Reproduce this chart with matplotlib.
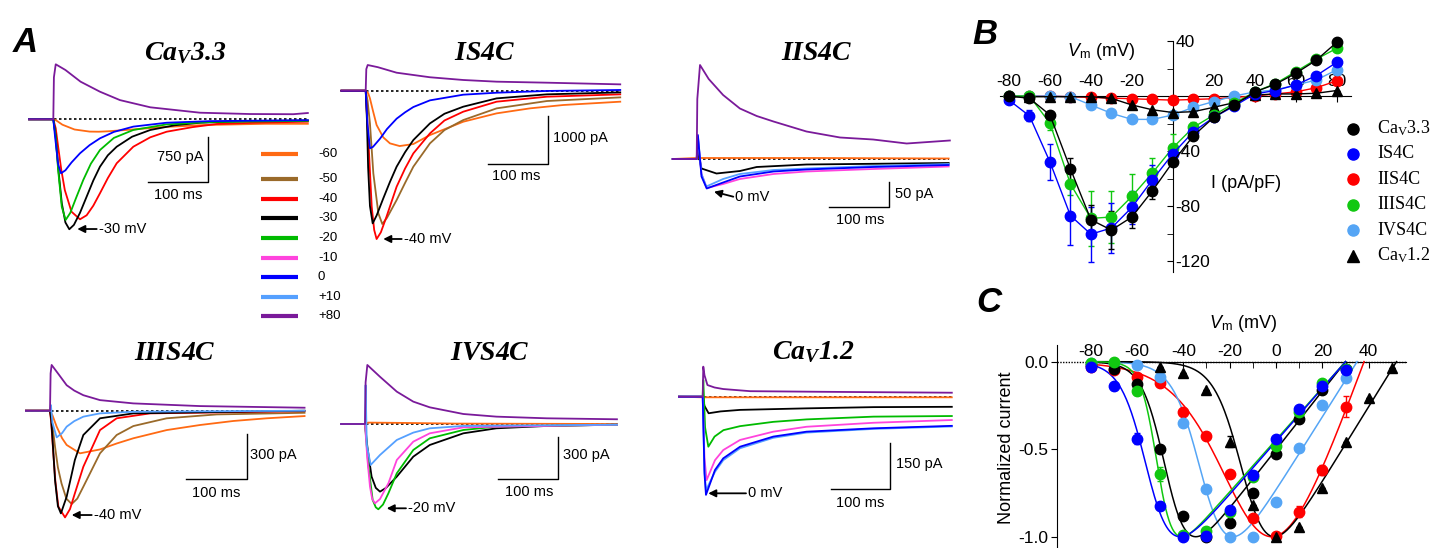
import matplotlib.pyplot as plt
import numpy as np

plt.rcParams['font.family'] = 'Liberation Sans'
plt.rcParams['axes.unicode_minus'] = False
plt.rcParams['mathtext.fontset'] = 'custom'
plt.rcParams['mathtext.rm'] = 'Liberation Serif'
plt.rcParams['mathtext.it'] = 'Liberation Serif:italic'
plt.rcParams['mathtext.bf'] = 'Liberation Serif:bold:italic'
plt.rcParams['mathtext.sf'] = 'Liberation Sans:italic'
plt.rcParams['mathtext.tt'] = 'Liberation Sans'

W, H = 1445, 548

# Step potentials (mV) and their trace colours
step_labels = ['-60', '-50', '-40', '-30', '-20', '-10', '0', '+10', '+80']
step_colors = ['#ff6a13', '#9a6a2a', '#ff0000', '#000000', '#00bb00',
               '#ff44dd', '#0000ff', '#55a0ff', '#7a1a9a']

# ---- Panel A: current traces, time (ms) from step onset, current (pA) ----
cav33_traces = {
    '-60': ([-40, 0, 5, 15, 35, 60, 75, 90, 130, 180, 250, 350, 420],
            [0, 0, -20, -90, -170, -205, -207, -200, -170, -130, -95, -75, -75]),
    '-40': ([-40, 0, 4, 8, 13, 19, 30, 44, 55, 66, 77, 90, 104.6, 132, 160, 187, 230, 270, 340, 420],
            [0, 0, -150, -457, -830, -1180, -1540, -1667, -1600, -1440, -1233, -980, -733, -457, -300, -207, -130, -78, -55, -40]),
    '-30': ([-40, 0, 4, 8, 14, 20, 26.4, 34, 44, 55, 66, 77, 90, 104.6, 130, 160, 200, 242, 320, 420],
            [0, 0, -280, -800, -1400, -1720, -1833, -1760, -1560, -1290, -1020, -790, -600, -457, -290, -178, -100, -57, -30, -20]),
    '-20': ([-40, 0, 4, 8, 14, 20.4, 28, 38, 49.5, 62, 77, 100, 132, 187, 260, 420],
            [0, 0, -300, -845, -1460, -1678, -1560, -1300, -1010, -740, -512, -310, -178, -85, -45, -25]),
    '0': ([-40, 0, 3, 8, 12.7, 20, 30, 44, 60, 77, 100, 132, 187, 260, 420],
          [0, 0, -300, -750, -900, -850, -720, -567, -430, -317, -210, -122, -57, -30, -15]),
    '+80': ([-40, 0, 1, 4, 20, 45, 77, 110, 160, 242, 324, 396, 420],
            [0, 0, 700, 917, 822, 627, 460, 320, 200, 110, 88, 85, 105]),
}

is4c_traces = {
    '-60': ([-40, 0, 4, 7, 12, 18, 29, 40, 56, 78.6, 106, 161, 216, 271, 326, 420],
            [0, 0, -50, -160, -420, -715, -972, -1097, -1153, -1111, -924, -646, -472, -368, -298, -229]),
    '-50': ([-40, 0, 3, 7, 12.6, 20.9, 27.4, 35, 51, 65, 78.6, 106, 130, 161, 216, 299, 420],
            [0, 0, -200, -681, -1722, -2555, -2777, -2650, -2278, -1920, -1583, -1097, -820, -611, -368, -215, -139]),
    '-40': ([-40, 0, 2, 4.4, 9.9, 14, 18, 25, 34.5, 51, 65, 78.6, 106, 130, 161, 216, 299, 420],
            [0, 0, -500, -1028, -2410, -2900, -3090, -2950, -2618, -2000, -1620, -1306, -889, -620, -437, -229, -125, -76]),
    '-30': ([-40, 0, 2, 4, 7, 11.5, 18, 29, 40, 51, 65, 78.6, 106, 130, 161, 216, 299, 420],
            [0, 0, -600, -1600, -2400, -2763, -2600, -2243, -1900, -1583, -1280, -1028, -681, -480, -333, -160, -76, -35]),
    '0': ([-40, 0, 3, 7, 12, 23.6, 35, 51, 65, 78.6, 106, 161, 216, 300, 420],
          [0, 0, -700, -1200, -1170, -1000, -800, -583, -450, -340, -201, -83, -42, -5, 15]),
    '+80': ([-40, 0, 1, 3.3, 20, 51, 106, 161, 216, 299, 420],
            [0, 0, 450, 535, 490, 375, 280, 223, 188, 167, 132]),
}

iis4c_traces = {
    '-60': ([-40, 0, 200, 420], [0, 2, 2, 1]),
    '-30': ([-40, 0, 2, 8, 33, 72, 100, 183, 420],
            [0, 0, 15, -19, -29, -24, -16, -11, -8]),
    '-10': ([-40, 0, 2, 8, 16.7, 44, 72, 128, 183, 294, 420],
            [0, 0, 40, -30, -58, -50, -40, -30, -25, -20, -15]),
    '+10': ([-40, 0, 2, 8, 16, 44, 72, 128, 183, 294, 420],
            [0, 0, 45, -30, -55, -40, -30, -22, -19, -14, -10]),
    '0': ([-40, 0, 2, 8, 16.7, 44, 72, 128, 183, 294, 420],
          [0, 0, 48, -35, -59, -47, -35, -25, -21, -16, -12]),
    '+80': ([-40, 0, 1, 5.5, 20, 44, 72, 100, 128, 183, 239, 294, 350, 422],
            [0, 0, 120, 188, 160, 128, 101, 86, 75, 55, 43, 39, 31, 37]),
}

iiis4c_traces = {
    '-60': ([-40, 0, 4, 11, 20, 27.5, 49.5, 82.5, 110, 137.5, 192.5, 247.5, 302.5, 357.5, 420],
            [0, 0, -30, -107, -185, -230, -286, -260, -220, -185, -130, -96, -69, -51, -36]),
    '-50': ([-40, 0, 3, 8.3, 13, 19, 27, 35.8, 45, 55, 82.5, 110, 137.5, 192.5, 275, 420],
            [0, 0, -60, -242, -380, -488, -590, -626, -590, -510, -286, -163, -103, -51, -25, -14]),
    '-40': ([-40, 0, 2, 5.5, 9, 13.8, 24.8, 33, 41, 55, 82.5, 110, 165, 420],
            [0, 0, -80, -286, -480, -644, -716, -660, -555, -376, -130, -51, -18, -3]),
    '-30': ([-40, 0, 2, 3.9, 8.3, 13, 18, 27.5, 41, 55, 82.5, 137.5, 420],
            [0, 0, -60, -174, -465, -640, -689, -577, -331, -163, -51, -18, 0]),
    '+10': ([-40, 0, 1.5, 4, 11, 20, 27.5, 40, 55, 82.5, 137.5, 420],
            [0, 0, 38, -80, -179, -150, -107, -70, -40, -18, -7, 0]),
    '+80': ([-40, 0, 1, 2.7, 15, 27.5, 40, 55, 82.5, 137.5, 247.5, 420],
            [0, 0, 250, 307, 240, 171, 135, 104, 71, 49, 31, 20]),
}

ivs4c_traces = {
    '-60': ([-40, 0, 5, 60, 150, 420], [0, 0, 10, 8, 3, 0]),
    '-30': ([-40, 0, 3.9, 11, 18, 25, 35, 53, 80.5, 108, 164, 219, 303, 420],
            [0, 0, -163, -379, -460, -487, -460, -379, -235, -151, -67, -31, -14, -5]),
    '-20': ([-40, 0, 5.5, 12.8, 18, 22.2, 30, 39, 53, 80.5, 108, 164, 219, 420],
            [0, 0, -295, -547, -600, -614, -580, -499, -355, -187, -103, -43, -19, -5]),
    '-10': ([-40, 0, 3.9, 8.3, 12, 16.7, 25, 39, 53, 80.5, 108, 164, 420],
            [0, 0, -250, -451, -540, -571, -540, -427, -259, -127, -67, -24, -5]),
    '+10': ([-40, 0, 1, 3, 9.4, 25, 53, 80.5, 108, 164, 420],
            [0, 0, 280, -150, -295, -223, -115, -62, -31, -14, -5]),
    '+80': ([-40, 0, 1, 3.9, 25, 53, 80.5, 108, 164, 219, 303, 420],
            [0, 0, 300, 425, 340, 233, 161, 120, 72, 53, 41, 34]),
}

cav12_traces = {
    '-60': ([-40, 0, 200, 420], [0, -2, -2, -2]),
    '-30': ([-40, 0, 3, 10, 30, 63, 175, 288, 420],
            [0, 0, -30, -54, -48, -43, -38, -34, -33]),
    '-20': ([-40, 0, 1, 4, 9.5, 20, 35, 63, 119, 175, 288, 420],
            [0, 0, 54, -100, -163, -130, -109, -96, -82, -74, -65, -63]),
    '-10': ([-40, 0, 3, 6.6, 20.7, 34.6, 63, 119, 175, 288, 420],
            [0, 0, -200, -272, -207, -174, -141, -114, -98, -85, -76]),
    '+10': ([-40, 0, 3, 5.5, 20.7, 34.6, 63, 119, 175, 288, 420],
            [0, 0, -240, -305, -245, -207, -168, -134, -117, -105, -97]),
    '0': ([-40, 0, 3, 5.5, 20.7, 34.6, 63, 119, 175, 288, 420],
          [0, 0, -250, -320, -239, -201, -163, -130, -114, -103, -95]),
    '+80': ([-40, 0, 1, 3, 8, 20, 34.6, 80, 200, 420],
            [0, 0, 98, 70, 38, 30, 25, 18, 16, 13]),
}

# ---- Panel B: I-V (pA/pF) ----
b_vm = list(range(-80, 81, 10))
b_cav33 = [0, -1.7, -13.8, -53, -90, -97.5, -88, -69, -48, -29, -15.5, -6.5, 3, 8.5, 16.5, 26, 39]
b_cav33_err = [0, 1, 2, 8, 11, 14, 8, 6, 3, 2, 2, 1, 1, 1, 1, 1, 1]
b_is4c = [-3, -14.5, -48, -87, -100.5, -96, -81, -61, -42, -26, -15.5, -7.3, 1.5, 4, 8, 14.8, 24.5]
b_is4c_err = [0, 4, 13, 21, 20, 18, 12, 11, 6, 3, 2, 1, 1, 1, 1, 1, 1]
b_iis4c = [0, 0, 0, -0.5, -1, -1.5, -2, -2.5, -3, -2.5, -2, -1, 0, 1.5, 3, 6, 11]
b_iis4c_err = [0] * 17
b_iiis4c = [0, 0, -19.9, -64, -89, -88, -73, -56, -37.6, -22.8, -13.8, -5.3, 3, 9, 17.7, 26.7, 34.7]
b_iiis4c_err = [0, 1, 5, 8, 20, 19, 16, 11, 10, 4, 2, 1, 1, 1, 1, 1, 2]
b_ivs4c = [0, 0, 0, -0.5, -6.5, -12.6, -17, -17, -13.8, -8.2, -4, 0, 3, 4.4, 8, 11.6, 19]
b_ivs4c_err = [0] * 17
b_cav12 = [-0.5, -0.5, -0.5, -0.5, -0.5, -1.7, -6.5, -10, -12, -11.4, -8.2, -4.8, 0.7, 1.5, 1.5, 2, 4]
b_cav12_err = [0] * 17

# ---- Panel C: normalized I-V ----
c_vm = list(range(-80, 31, 10))
c_cav33 = [-0.02, -0.04, -0.13, -0.50, -0.88, -1.0, -0.92, -0.75, -0.53, -0.33, -0.16, -0.04]
c_is4c = [-0.03, -0.14, -0.44, -0.825, -1.0, -0.995, -0.845, -0.645, -0.44, -0.27, -0.14, -0.05]
c_is4c_err = [0, 0.02, 0.03, 0.02, 0, 0, 0, 0, 0, 0, 0, 0]
c_iis4c = [-0.03, -0.05, -0.085, -0.12, -0.285, -0.425, -0.64, -0.895, -0.995, -0.857, -0.62, -0.257]
c_iis4c_err = [0, 0, 0, 0, 0.02, 0, 0, 0, 0, 0.03, 0.03, 0.06]
c_iiis4c = [-0.01, 0.0, -0.17, -0.64, -0.99, -0.97, -0.86, -0.66, -0.48, -0.29, -0.124, -0.04]
c_iiis4c_err = [0, 0, 0.02, 0.04, 0, 0, 0, 0, 0, 0, 0, 0]
c_ivs4c = [-0.01, -0.01, -0.02, -0.09, -0.35, -0.73, -1.0, -1.0, -0.8, -0.495, -0.25, -0.095]
c_cav12_vm = list(range(-50, 51, 10))
c_cav12 = [-0.03, -0.067, -0.16, -0.457, -0.82, -1.0, -0.943, -0.724, -0.457, -0.21, -0.038]
c_cav12_err = [0, 0, 0, 0.03, 0, 0, 0, 0, 0, 0, 0]

# Boltzmann-GHK fit parameters: CaV3.3, IS4C, IIS4C, IIIS4C, IVS4C, CaV1.2
fit_vrev = [30, 30, 38, 30, 35, 52]
fit_v50 = [-47, -55, -12, -51, -31, -13]
fit_k = [5, 5.5, 12, 3.5, 6, 6]

series_names = ['Ca$_{\\mathrm{V}}$3.3', 'IS4C', 'IIS4C', 'IIIS4C', 'IVS4C', 'Ca$_{\\mathrm{V}}$1.2']
series_colors = ['#000000', '#0000ff', '#ff0000', '#11c811', '#55a5f5', '#000000']
series_markers = ['o', 'o', 'o', 'o', 'o', '^']

fig = plt.figure(figsize=(W / 100, H / 100), dpi=100)


def px_axes(left, top, right, bottom):
    return fig.add_axes([left / W, 1 - bottom / H, (right - left) / W, (bottom - top) / H])


step_color = dict(zip(step_labels, step_colors))

# layout of the six trace panels (pixel positions)
panels = [
    dict(title=r'$\mathbf{Ca_V3.3}$', traces=cav33_traces, box=(25, 40, 315, 245), onset=53.3, base=119.3,
         ms=1.65, pa=16.67, title_xy=(185, 53), corner=(255.6, -1040), amp=750, amp_text='750 pA',
         amp_xy=(247.5, -623), amp_ha='right', ms_xy=(206, -1262),
         arrow=((71.6, -1829), (39.6, -1829)), arrow_text='-30 mV'),
    dict(title=r'$\mathbf{IS4C}$', traces=is4c_traces, box=(335, 40, 630, 250), onset=365.7, base=90.7,
         ms=1.65, pa=20.83, title_xy=(485, 53), corner=(301.3, -1527), amp=1000, amp_text='1000 pA',
         amp_xy=(308.5, -990), amp_ha='left', ms_xy=(249, -1777),
         arrow=((59.4, -3089), (29, -3089)), arrow_text='-40 mV'),
    dict(title=r'$\mathbf{IIS4C}$', traces=iis4c_traces, box=(665, 55, 960, 235), onset=696.7, base=159,
         ms=1.667, pa=2.0, title_xy=(816.7, 53), corner=(321, -95.4), amp=50, amp_text='50 pA',
         amp_xy=(330.5, -70.6), amp_ha='left', ms_xy=(272, -122),
         arrow=((61, -75.4), (28.8, -65.4)), arrow_text='0 mV'),
    dict(title=r'$\mathbf{IIIS4C}$', traces=iiis4c_traces, box=(25, 330, 315, 535), onset=50, base=410.7,
         ms=1.65, pa=6.71, title_xy=(175, 353), corner=(324.5, -458), amp=300, amp_text='300 pA',
         amp_xy=(330, -297), amp_ha='left', ms_xy=(275, -554),
         arrow=((68.8, -700), (35.8, -700)), arrow_text='-40 mV'),
    dict(title=r'$\mathbf{IVS4C}$', traces=ivs4c_traces, box=(335, 330, 630, 535), onset=365, base=424,
         ms=1.667, pa=7.2, title_xy=(490, 353), corner=(322, -396), amp=300, amp_text='300 pA',
         amp_xy=(330.5, -223), amp_ha='left', ms_xy=(273, -492),
         arrow=((68.3, -607), (36.2, -607)), arrow_text='-20 mV'),
    dict(title=r'$\mathbf{Ca_V1.2}$', traces=cav12_traces, box=(665, 330, 960, 535), onset=702.7, base=396.7,
         ms=1.686, pa=3.26, title_xy=(813.3, 352), corner=(315.8, -302), amp=150, amp_text='150 pA',
         amp_xy=(326, -219), amp_ha='left', ms_xy=(265, -346),
         arrow=((73, -315), (9.4, -315)), arrow_text='0 mV'),
]

for p in panels:
    l, t, r, b = p['box']
    ax = px_axes(l, t, r, b)
    ax.set_xlim((l - p['onset']) * p['ms'], (r - p['onset']) * p['ms'])
    ax.set_ylim((p['base'] - b) * p['pa'], (p['base'] - t) * p['pa'])
    ax.axis('off')
    ax.plot([-40, 420], [0, 0], ls=(0, (1.5, 1.5)), color='k', lw=1.2, zorder=1)
    for step, (tt, ii) in p['traces'].items():
        ax.plot(tt, ii, color=step_color[step], lw=1.3)
    # scale bar
    cx, cy = p['corner']
    ax.plot([cx - 100, cx, cx], [cy, cy, cy + p['amp']], color='k', lw=1)
    ax.text(p['amp_xy'][0], p['amp_xy'][1], p['amp_text'], ha=p['amp_ha'], va='center', fontsize=10.5)
    ax.text(p['ms_xy'][0], p['ms_xy'][1], '100 ms', ha='center', va='center', fontsize=10.5)
    tail, head = p['arrow']
    ax.annotate('', xy=head, xytext=tail,
                arrowprops=dict(arrowstyle='-|>', color='k', lw=1.3, mutation_scale=11,
                                shrinkA=0, shrinkB=0))
    ax.text(tail[0] + 2 * p['ms'], tail[1], p['arrow_text'], ha='left', va='center', fontsize=10.5)

# ---- Panel B ----
axB = px_axes(1000, 38, 1351, 272)
axB.set_xlim(-84.4, 87)
axB.set_ylim(-128, 42.2)
axB.patch.set_visible(False)
axB.spines['bottom'].set_visible(False)
axB.spines['left'].set_visible(False)
axB.spines['top'].set_position(('data', 0))
axB.spines['right'].set_position(('data', 0))
axB.spines['right'].set_bounds(-128, 40)
axB.xaxis.set_ticks_position('top')
axB.yaxis.set_ticks_position('right')
axB.set_xticks(range(-80, 81, 20))
axB.set_xticklabels(['-80', '-60', '-40', '-20', '', '20', '40', '60', '80'])
axB.set_yticks([40, -40, -80, -120])
axB.set_yticks([20, -20, -60, -100], minor=True)
axB.tick_params(axis='x', direction='in', length=4, pad=5, labelsize=12.5)
axB.tick_params(axis='y', which='both', direction='in', length=4, pad=2, labelsize=12.5)

b_values = [b_cav33, b_is4c, b_iis4c, b_iiis4c, b_ivs4c, b_cav12]
b_errors = [b_cav33_err, b_is4c_err, b_iis4c_err, b_iiis4c_err, b_ivs4c_err, b_cav12_err]
for i in [2, 4, 5, 3, 1, 0]:
    axB.errorbar(b_vm, b_values[i], yerr=b_errors[i], color=series_colors[i], marker=series_markers[i],
                 ms=7.5, lw=1, elinewidth=1, capsize=2.5, capthick=1, zorder=3, clip_on=False)

# ---- Panel C ----
axC = px_axes(1056.7, 345, 1405.8, 546.7)
axC.set_xlim(-94.6, 56)
axC.set_ylim(-1.057, 0.095)
axC.patch.set_visible(False)
axC.spines['bottom'].set_visible(False)
axC.spines['right'].set_visible(False)
axC.spines['top'].set_position(('data', 0))
axC.spines['top'].set_bounds(-82, 56)
axC.xaxis.set_ticks_position('top')
axC.set_xticks(range(-80, 41, 20))
axC.set_xticks(range(-70, 51, 20), minor=True)
axC.set_yticks([0, -0.5, -1.0])
axC.set_yticklabels(['0.0', '-0.5', '-1.0'])
axC.tick_params(axis='x', which='both', direction='in', length=4, pad=2, labelsize=12.5)
axC.tick_params(axis='y', direction='out', length=4, pad=2, labelsize=12.5)
axC.axhline(0, color='k', lw=1, ls=(0, (1, 1)), zorder=1)

c_x = [c_vm, c_vm, c_vm, c_vm, c_vm, c_cav12_vm]
c_values = [c_cav33, c_is4c, c_iis4c, c_iiis4c, c_ivs4c, c_cav12]
c_errors = [None, c_is4c_err, c_iis4c_err, c_iiis4c_err, None, c_cav12_err]
for i in [2, 4, 5, 0, 3, 1]:
    v = np.linspace(-80, fit_vrev[i], 300)
    fit = (v - fit_vrev[i]) / (1 + np.exp((fit_v50[i] - v) / fit_k[i]))
    axC.plot(v, fit / abs(fit.min()), color=series_colors[i], lw=1.1, zorder=3)
    axC.errorbar(c_x[i], c_values[i], yerr=c_errors[i], fmt=series_markers[i], color=series_colors[i],
                 ms=7.5, elinewidth=1, capsize=2.5, capthick=1, zorder=4, clip_on=False)

# ---- Overlay for labels, titles, legends ----
ov = fig.add_axes([0, 0, 1, 1])
ov.set_xlim(0, W)
ov.set_ylim(H, 0)
ov.axis('off')

for p in panels:
    ov.text(p['title_xy'][0], p['title_xy'][1], p['title'], ha='center', va='center', fontsize=20)

# legend of step potentials
for k, (lab, col) in enumerate(zip(step_labels, step_colors)):
    y = [154, 179, 199, 218.3, 238.3, 257.7, 277, 296.7, 316][k]
    ov.plot([261, 298], [y, y], color=col, lw=3, solid_capstyle='butt')
    ov.text(318, y, lab, ha='left', va='center', fontsize=9.5)

# legend of panel B
for k in range(6):
    y = 128.5 + 25.4 * k
    ov.plot([1353], [y], marker=series_markers[k], color=series_colors[k], ms=8)
    ov.text(1377, y, series_names[k], ha='left', va='center', fontsize=13, family='Liberation Serif')

ov.text(1101, 51, r'$\mathsf{V}_{\mathtt{m}}$ (mV)', ha='center', va='center', fontsize=13)
ov.text(1246, 183, 'I (pA/pF)', ha='center', va='center', fontsize=13)
ov.text(1243, 323, r'$\mathsf{V}_{\mathtt{m}}$ (mV)', ha='center', va='center', fontsize=13)
ov.text(1006.7, 448, 'Normalized current', rotation=90, ha='center', va='center', fontsize=13)

for letter, x, y in [('A', 25, 43), ('B', 985, 34), ('C', 989, 302)]:
    ov.text(x, y, letter, ha='center', va='center', fontsize=25, fontweight='bold', fontstyle='italic')

fig.savefig('out.png', dpi=100, facecolor='white')
